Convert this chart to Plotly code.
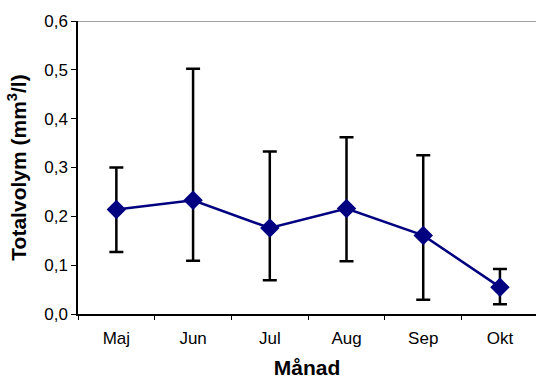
import plotly.graph_objects as go

months = ["Maj", "Jun", "Jul", "Aug", "Sep", "Okt"]
mean_vals = [0.214, 0.233, 0.176, 0.216, 0.161, 0.055]
upper_vals = [0.300, 0.502, 0.333, 0.362, 0.325, 0.092]
lower_vals = [0.127, 0.109, 0.069, 0.108, 0.029, 0.020]

err_plus = [u - m for u, m in zip(upper_vals, mean_vals)]
err_minus = [m - l for m, l in zip(mean_vals, lower_vals)]

fig = go.Figure()
fig.add_trace(go.Scatter(
    x=months, y=mean_vals, mode="lines+markers",
    line=dict(color="#000080", width=2.5),
    marker=dict(symbol="diamond", size=15, color="#000080"),
    error_y=dict(type="data", symmetric=False, array=err_plus, arrayminus=err_minus,
                 color="black", thickness=2.5, width=7),
    showlegend=False,
))

fig.add_shape(type="line", xref="paper", yref="y", x0=0, x1=1, y0=0.6, y1=0.6,
              line=dict(color="#808080", width=1.5))

font = "Liberation Sans, Arial, sans-serif"
fig.update_layout(
    width=536, height=379,
    margin=dict(l=78, r=0, t=21, b=65),
    paper_bgcolor="white", plot_bgcolor="white",
    separators=",.",
    font=dict(family=font, size=17, color="black"),
    xaxis=dict(
        range=[-0.5, 5.47], showgrid=False, showline=True, linecolor="black", linewidth=2,
        ticks="outside", tickson="boundaries", ticklen=4, tickcolor="black", tickwidth=1,
        ticklabelstandoff=8,
        tickfont=dict(family=font, size=17, color="black"),
        title=dict(text="<b>Månad</b>", font=dict(family=font, size=21), standoff=14),
    ),
    yaxis=dict(
        range=[0, 0.6], dtick=0.1, tickformat=".1f", showgrid=False, zeroline=False,
        showline=True, linecolor="black", linewidth=1.5,
        ticks="outside", ticklen=5, tickcolor="black", tickwidth=1,
        tickfont=dict(family=font, size=17, color="black"),
        title=dict(text="<b>Totalvolym (mm<sup>3</sup>/l)</b>", font=dict(family=font, size=21), standoff=12),
    ),
)

fig.write_html("out.html")
